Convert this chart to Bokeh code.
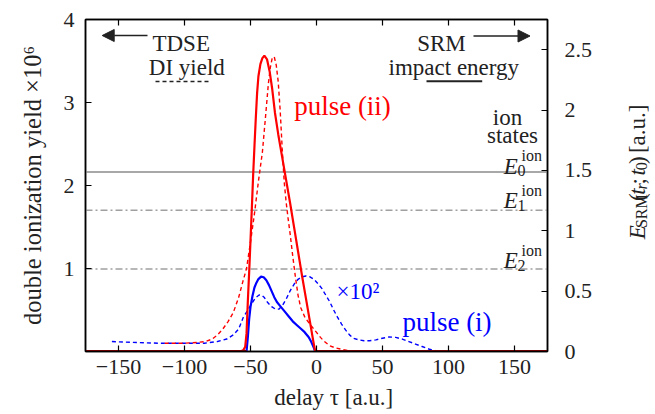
import math
from bokeh.plotting import figure
from bokeh.layouts import row
from bokeh.models import (Range1d, LinearAxis, FixedTicker, Label, Span, Arrow,
                          NormalHead, CustomJSTickFormatter, NumeralTickFormatter)
from bokeh.embed import file_html
from bokeh.resources import INLINE

# ---------------- data ----------------
# SRM impact energy (right axis, a.u.)
red_srm_delay = [-58, -55.5, -54, -53, -52, -51, -50, -49, -48, -47, -46, -45, -44, -42.5, -41,
                 -39.5, -37.5, -35.5, -33.5, -31.5, -29, -26, -23, -20, -17, -14, -11, -8, -5, -2.5, -1]
red_srm_energy = [0, 0.01, 0.04, 0.15, 0.42, 0.66, 0.92, 1.18, 1.46, 1.7, 1.93, 2.14, 2.28, 2.38, 2.43,
                  2.45, 2.42, 2.32, 2.17, 1.98, 1.80, 1.61, 1.42, 1.23, 1.03, 0.83, 0.63, 0.44, 0.25, 0.09, 0.0]

blue_srm_delay = [-53, -52, -51, -50, -48.5, -47, -45.5, -44, -42, -40, -38, -36, -34, -32, -30,
                  -27, -24, -21, -18, -15, -12, -9, -6, -4, -2, -1]
blue_srm_energy = [0, 0.12, 0.27, 0.37, 0.46, 0.53, 0.57, 0.60, 0.62, 0.615, 0.59, 0.55, 0.50, 0.45, 0.41,
                   0.37, 0.33, 0.29, 0.25, 0.22, 0.19, 0.16, 0.12, 0.08, 0.03, 0.0]

# TDSE double ionization yield (left axis, x1e6; pulse (i) already x1e2)
red_tdse_delay = [-115, -100, -90, -84, -79, -75, -71, -67, -63, -59, -56, -53, -50, -47, -44, -41,
                  -38.5, -36.5, -35, -33.5, -32, -30.5, -29, -27.5, -26, -24.5, -23, -21.5, -20, -18,
                  -16, -14, -12, -9, -6, -3, 0, 3, 6, 10, 14, 18, 24, 30, 35]
red_tdse_yield = [0.10, 0.10, 0.11, 0.12, 0.15, 0.20, 0.27, 0.36, 0.47, 0.65, 0.83, 1.00, 1.32, 1.66,
                  2.05, 2.40, 2.85, 3.22, 3.42, 3.54, 3.55, 3.45, 3.25, 2.90, 2.45, 2.05, 1.80, 1.60,
                  1.42, 1.15, 0.90, 0.68, 0.53, 0.42, 0.35, 0.29, 0.23, 0.17, 0.12, 0.07, 0.045, 0.03,
                  0.01, 0.0, 0.0]

blue_tdse_delay = [-155, -140, -120, -100, -85, -75, -68, -63, -59, -55.5, -52, -49, -46, -43.5, -41.5,
                   -39.5, -37, -34, -31, -28.5, -26, -23, -20, -17, -14, -11, -8, -5, -2, 1, 4, 7, 10,
                   13, 16, 19, 22, 25, 28, 32, 36, 40, 45, 50, 55, 60, 65, 70, 75, 80, 85, 90, 92]
blue_tdse_yield = [0.12, 0.11, 0.10, 0.10, 0.10, 0.12, 0.15, 0.20, 0.27, 0.41, 0.50, 0.58, 0.65, 0.68,
                   0.68, 0.65, 0.59, 0.54, 0.51, 0.51, 0.55, 0.63, 0.73, 0.81, 0.87, 0.90, 0.91, 0.90,
                   0.87, 0.82, 0.76, 0.68, 0.60, 0.50, 0.41, 0.33, 0.26, 0.20, 0.16, 0.14, 0.13, 0.13,
                   0.14, 0.16, 0.175, 0.17, 0.15, 0.12, 0.09, 0.06, 0.03, 0.01, 0.0]

# zero-energy stretches of the SRM curves (drawn dark red on the baseline)
srm_zero_segments = [(-175, -53), (-1, 175)]

# ion state energies (right axis, a.u.)
ion_levels = [1.487, 1.170, 0.683]
ion_index = ["0", "1", "2"]

x_ticks = [-150, -100, -50, 0, 50, 100, 150]
left_ticks = [1, 2, 3, 4]
right_ticks = [0, 0.5, 1, 1.5, 2, 2.5]

# ---------------- main figure ----------------
FONT = "Liberation Serif"
INK = "#222222"
MAIN_W, TOTAL_W, TOTAL_H = 600, 652, 413

p = figure(width=MAIN_W, height=TOTAL_H,
           x_range=Range1d(-175, 175), y_range=Range1d(0, 4),
           output_backend="svg", toolbar_location=None,
           min_border_left=85, min_border_right=53, min_border_top=19,
           min_border_bottom=TOTAL_H - 19 - 332)
p.extra_y_ranges = {"right": Range1d(0, 2.75)}
p.xgrid.visible = False
p.ygrid.visible = False
p.outline_line_color = "black"
p.outline_line_width = 1.5
p.background_fill_color = "white"
p.border_fill_color = "white"

bottom_axis = p.below[0]
left_axis = p.left[0]
top_axis = LinearAxis()
right_axis = LinearAxis(y_range_name="right")
p.add_layout(top_axis, "above")
p.add_layout(right_axis, "right")

for ax in [bottom_axis, top_axis, left_axis, right_axis]:
    ax.major_tick_in = 6
    ax.major_tick_out = 0
    ax.minor_tick_in = 0
    ax.minor_tick_out = 0
    ax.axis_line_width = 1.5
    ax.axis_line_color = "black"
    ax.major_tick_line_width = 1.2
    ax.major_tick_line_color = "black"
    ax.major_label_text_font = FONT
    ax.major_label_text_font_size = "22px"
    ax.major_label_text_color = INK

bottom_axis.ticker = FixedTicker(ticks=x_ticks)
bottom_axis.formatter = CustomJSTickFormatter(
    code="return tick < 0 ? '\u2212' + Math.abs(tick) : String(tick);")
bottom_axis.major_label_standoff = 8
bottom_axis.axis_label = "\u00a0" * 6 + "delay \u03c4 [a.u.]"
bottom_axis.axis_label_text_font = FONT
bottom_axis.axis_label_text_font_style = "normal"
bottom_axis.axis_label_text_font_size = "23px"
bottom_axis.axis_label_text_color = INK
bottom_axis.axis_label_standoff = 8

top_axis.ticker = FixedTicker(ticks=x_ticks)
top_axis.formatter = CustomJSTickFormatter(code="return '';")
top_axis.major_label_standoff = 0

left_axis.ticker = FixedTicker(ticks=left_ticks)
left_axis.major_label_standoff = 11
left_axis.axis_label = "double ionization yield \u00d710\u2076"
left_axis.axis_label_text_font = FONT
left_axis.axis_label_text_font_style = "normal"
left_axis.axis_label_text_font_size = "24.5px"
left_axis.axis_label_text_color = INK
left_axis.axis_label_standoff = 15

right_axis.ticker = FixedTicker(ticks=right_ticks)
right_axis.formatter = NumeralTickFormatter(format="0.[0]")
right_axis.major_label_standoff = 17

# ion state lines
for i, lev in enumerate(ion_levels):
    if i == 0:
        sp = Span(location=lev, dimension="width", y_range_name="right",
                  line_color="#a8a8a8", line_width=2.2, level="underlay")
    else:
        sp = Span(location=lev, dimension="width", y_range_name="right",
                  line_color="#a0a0a0", line_width=1.6, line_dash="7 3 2 3", level="underlay")
    p.add_layout(sp)

# curves
p.line(blue_tdse_delay, blue_tdse_yield, line_color="#0000ff", line_width=1.4, line_dash="4 3")
p.line(red_tdse_delay, red_tdse_yield, line_color="#ff0000", line_width=1.4, line_dash="4 3")
p.line(blue_srm_delay, blue_srm_energy, y_range_name="right", line_color="#0000ff", line_width=2.2)
p.line(red_srm_delay, red_srm_energy, y_range_name="right", line_color="#ff0000", line_width=2.2)
for a, b in srm_zero_segments:
    p.line([a, b], [0, 0], y_range_name="right", line_color="#8b0000", line_width=3)

# page-pixel helpers for annotation placement inside the frame
def lx(px):
    return (px - 85.0) / 1.32 - 175.0

def ly(py):
    return (351.0 - py) / 83.0

def txt(px, py, s, size="23px", color=INK, style="normal", align="left"):
    p.add_layout(Label(x=lx(px), y=ly(py), text=s, text_font=FONT, text_font_size=size,
                       text_color=color, text_font_style=style, text_align=align,
                       text_baseline="alphabetic"))

txt(180.7, 43.3, "TDSE", align="center")
txt(186.3, 66.5, "DI yield", align="center")
p.line([lx(155), lx(210.7)], [ly(81), ly(81)], line_color=INK, line_width=1.4, line_dash="4 3")
p.add_layout(Arrow(end=NormalHead(size=12, fill_color=INK, line_color=INK),
                   x_start=lx(147), y_start=ly(35), x_end=lx(101.7), y_end=ly(35),
                   line_color=INK, line_width=1.5))

txt(441, 43.3, "SRM", align="center")
txt(453.3, 66.7, "impact energy", align="center")
p.line([lx(426), lx(481.7)], [ly(80.7), ly(80.7)], line_color=INK, line_width=2)
p.add_layout(Arrow(end=NormalHead(size=12, fill_color=INK, line_color=INK),
                   x_start=lx(473), y_start=ly(35.5), x_end=lx(529.5), y_end=ly(35.5),
                   line_color=INK, line_width=1.5))

txt(507, 116.7, "ion", align="center")
txt(512, 135, "states", align="center")

for base, idx in zip([165.7, 200.0, 260.0], ion_index):
    txt(503.3, base, "E", style="italic")
    txt(517.0, base + 4.5, idx, size="16px")
    txt(541.5, base - 10.5, "ion", size="16px", align="right")

txt(342, 105, "pulse (ii)", size="27px", color="#ff0000", align="center")
txt(446.5, 321.7, "pulse (i)", size="27px", color="#0000ff", align="center")
txt(357.5, 291, "\u00d710\u00b2", size="23px", color="#0000ff", align="center")

# ---------------- right strip holding the rotated axis title ----------------
q = figure(width=TOTAL_W - MAIN_W, height=TOTAL_H,
           x_range=Range1d(0, TOTAL_W - MAIN_W), y_range=Range1d(0, TOTAL_H),
           output_backend="svg", toolbar_location=None, min_border=0,
           x_axis_location=None, y_axis_location=None)
q.title = None
q.outline_line_color = None
q.xgrid.visible = False
q.ygrid.visible = False
q.background_fill_color = "white"
q.border_fill_color = "white"

rot = math.pi / 2
start = 273.5
bx, sx = 636.5, 641.0
pieces = [
    (0.0, "E", "23px", "italic", bx),
    (14.0, "SRM", "16px", "normal", sx),
    (47.8, "(", "23px", "normal", bx),
    (55.5, "t", "23px", "italic", bx),
    (61.9, "r", "16px", "italic", sx),
    (68.1, ";", "23px", "normal", bx),
    (79.5, "t", "23px", "italic", bx),
    (85.9, "0", "16px", "normal", sx),
    (93.9, ")", "23px", "normal", bx),
    (107.3, "[a.u.]", "23px", "normal", bx),
]
for off, s, size, style, xb in pieces:
    q.add_layout(Label(x=xb - MAIN_W, y=TOTAL_H - (start - off), text=s, text_font=FONT,
                       text_font_size=size, text_font_style=style, text_color=INK,
                       text_baseline="alphabetic", text_align="left", angle=rot))

layout = row(p, q)
open("out.html", "w").write(file_html(layout, INLINE))
